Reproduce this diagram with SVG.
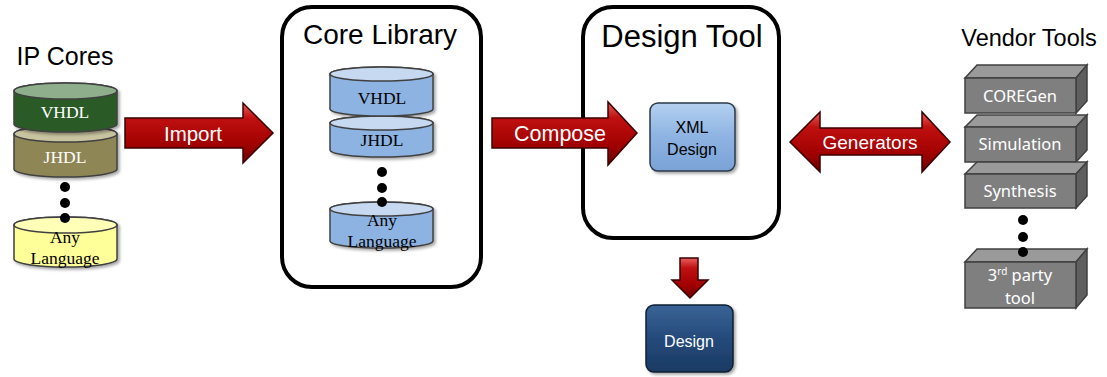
<svg xmlns="http://www.w3.org/2000/svg" width="1107" height="377" viewBox="0 0 1107 377">
<defs>
<linearGradient id="red" x1="0" y1="0" x2="0" y2="1">
<stop offset="0" stop-color="#e86060"/>
<stop offset="0.25" stop-color="#c01010"/>
<stop offset="0.7" stop-color="#a00000"/>
<stop offset="1" stop-color="#6a0000"/>
</linearGradient>
<linearGradient id="blueBox" x1="0" y1="0" x2="0" y2="1">
<stop offset="0" stop-color="#b4d0f0"/>
<stop offset="0.5" stop-color="#8db3e2"/>
<stop offset="1" stop-color="#7aa2d6"/>
</linearGradient>
<linearGradient id="navyBox" x1="0" y1="0" x2="0" y2="1">
<stop offset="0" stop-color="#3a6496"/>
<stop offset="0.5" stop-color="#244a7a"/>
<stop offset="1" stop-color="#1b3a63"/>
</linearGradient>
<filter id="sh" x="-10%" y="-10%" width="130%" height="130%">
<feDropShadow dx="2" dy="2" stdDeviation="1.5" flood-color="#000" flood-opacity="0.35"/>
</filter>
</defs>
<style>
.title{font-family:"Liberation Sans",Arial,sans-serif;fill:#000;text-anchor:middle}
.serif{font-family:"Liberation Serif","Times New Roman",serif;font-size:17.5px;text-anchor:middle}
.sans{font-family:"Liberation Sans",Arial,sans-serif;text-anchor:middle}
.cal{font-family:"Noto Sans","Open Sans",sans-serif;font-size:16.5px;fill:#fff;text-anchor:middle}
.frame{fill:#fff;stroke:#000;stroke-width:4}
.cylL{stroke:#404040;stroke-width:1.5}
.dot{fill:#000}
.arrow{fill:url(#red);stroke:#3a0000;stroke-width:1.5}
.alabel{font-family:"Liberation Sans",Arial,sans-serif;fill:#fff;text-anchor:middle}
.front{fill:#7f7f7f;stroke:#404040;stroke-width:1.5}
.topf{fill:#9a9a9a;stroke:#404040;stroke-width:1.5}
.side{fill:#5f5f5f;stroke:#404040;stroke-width:1.5}
</style>

<g id="ip-cores">
<text class="title" x="65" y="65" font-size="25">IP Cores</text>
<g id="ip-jhdl" filter="url(#sh)">
<path class="cylL" fill="#8f8656" d="M14,134 L14,169 A51.5,8 0 0 0 117,169 L117,134 A51.5,8 0 0 0 14,134 Z"/>
<ellipse class="cylL" cx="65.5" cy="134" rx="51.5" ry="8" fill="#c9c4a0"/>
</g>
<g id="ip-vhdl" filter="url(#sh)">
<path class="cylL" fill="#2c5a26" d="M14,91 L14,124 A51.5,8 0 0 0 117,124 L117,91 A51.5,8 0 0 0 14,91 Z"/>
<ellipse class="cylL" cx="65.5" cy="91" rx="51.5" ry="8" fill="#8eae8c"/>
</g>
<text class="serif" x="65" y="118" fill="#fff">VHDL</text>
<text class="serif" x="65" y="163" fill="#fff">JHDL</text>
<g id="ip-any" filter="url(#sh)">
<path class="cylL" fill="#ffff99" d="M14,225 L14,259 A51.5,8 0 0 0 117,259 L117,225 A51.5,8 0 0 0 14,225 Z"/>
<ellipse class="cylL" cx="65.5" cy="225" rx="51.5" ry="8" fill="#ffffb8"/>
</g>
<circle class="dot" cx="65" cy="187" r="5"/>
<circle class="dot" cx="65" cy="203" r="5"/>
<circle class="dot" cx="65" cy="218" r="5"/>
<text class="serif" x="65" y="243" fill="#000">Any</text>
<text class="serif" x="65" y="264" fill="#000">Language</text>
</g>

<g id="core-library">
<rect class="frame" x="282" y="7" width="199" height="280" rx="30"/>
<text class="title" x="380" y="44" font-size="28">Core Library</text>
<g filter="url(#sh)">
<path class="cylL" fill="#8db3e2" d="M330,123 L330,150 A51.5,7 0 0 0 433,150 L433,123 A51.5,7 0 0 0 330,123 Z"/>
<ellipse class="cylL" cx="381.5" cy="123" rx="51.5" ry="7" fill="#c6d9f1"/>
<path class="cylL" fill="#8db3e2" d="M330,74 L330,109 A51.5,7 0 0 0 433,109 L433,74 A51.5,7 0 0 0 330,74 Z"/>
<ellipse class="cylL" cx="381.5" cy="74" rx="51.5" ry="7" fill="#c6d9f1"/>
<path class="cylL" fill="#8db3e2" d="M330,209 L330,241 A51.5,7 0 0 0 433,241 L433,209 A51.5,7 0 0 0 330,209 Z"/>
<ellipse class="cylL" cx="381.5" cy="209" rx="51.5" ry="7" fill="#c6d9f1"/>
</g>
<text class="serif" x="382" y="104" fill="#000">VHDL</text>
<text class="serif" x="382" y="146" fill="#000">JHDL</text>
<circle class="dot" cx="382" cy="172" r="5"/>
<circle class="dot" cx="382" cy="188" r="5"/>
<circle class="dot" cx="382" cy="202" r="5"/>
<text class="serif" x="382" y="226" fill="#000">Any</text>
<text class="serif" x="382" y="247" fill="#000">Language</text>
</g>

<g id="design-tool">
<rect class="frame" x="583" y="7" width="196" height="231" rx="30"/>
<text class="title" x="682" y="47" font-size="31">Design Tool</text>
</g>

<g id="xml-design">
<rect x="650" y="103" width="85" height="68" rx="8" fill="url(#blueBox)" stroke="#2b3a4a" stroke-width="1.5" filter="url(#sh)"/>
<text class="sans" x="692" y="133" font-size="16" fill="#000">XML</text>
<text class="sans" x="692" y="155" font-size="16" fill="#000">Design</text>
</g>

<g id="design-out">
<rect x="646" y="305" width="87" height="67" rx="8" fill="url(#navyBox)" stroke="#0f1f33" stroke-width="1.5" filter="url(#sh)"/>
<text class="sans" x="689" y="347" font-size="16" fill="#fff">Design</text>
</g>

<g id="vendor-tools">
<text class="title" x="1029" y="46" font-size="23.5">Vendor Tools</text>
<g id="vt-coregen">
<polygon class="topf" points="965,78 977,65 1087,65 1076,78"/>
<polygon class="side" points="1076,78 1087,65 1087,101 1076,113"/>
<rect class="front" x="965" y="78" width="111" height="35"/>
<text class="cal" x="1020" y="102">COREGen</text>
</g>
<g id="vt-simulation">
<polygon class="topf" points="965,127 977,115 1087,115 1076,127"/>
<polygon class="side" points="1076,127 1087,115 1087,150 1076,162"/>
<rect class="front" x="965" y="127" width="111" height="35"/>
<text class="cal" x="1020" y="150">Simulation</text>
</g>
<g id="vt-synthesis">
<polygon class="topf" points="965,174 977,162 1087,162 1076,174"/>
<polygon class="side" points="1076,174 1087,162 1087,196 1076,208"/>
<rect class="front" x="965" y="174" width="111" height="34"/>
<text class="cal" x="1020" y="197">Synthesis</text>
</g>
<g id="vt-3rd">
<polygon class="topf" points="965,262 977,249 1087,249 1076,262"/>
<polygon class="side" points="1076,262 1087,249 1087,295 1076,308"/>
<rect class="front" x="965" y="262" width="111" height="46"/>
<text class="cal" x="1020" y="281" font-size="16">3<tspan font-size="10" dy="-6">rd</tspan><tspan dy="6"> party</tspan></text>
<text class="cal" x="1020" y="304" font-size="16">tool</text>
</g>
<circle class="dot" cx="1023" cy="220" r="5"/>
<circle class="dot" cx="1023" cy="237" r="5"/>
<circle class="dot" cx="1023" cy="252" r="5"/>
</g>

<g id="connectors">
<g id="import">
<polygon class="arrow" points="125,118 243,118 243,103 273,133 243,163 243,148 125,148"/>
<text class="alabel" x="193" y="141" font-size="20.5">Import</text>
</g>
<g id="compose">
<polygon class="arrow" points="492,118 608,118 608,102 637,133 608,165 608,148 492,148"/>
<text class="alabel" x="560" y="141" font-size="21.5">Compose</text>
</g>
<g id="generators">
<polygon class="arrow" points="790,142 820,112 820,128 922,128 922,112 950,142 922,172 922,155 820,155 820,172"/>
<text class="alabel" x="870" y="149" font-size="19">Generators</text>
</g>
<g id="to-design">
<polygon class="arrow" points="680,258 698,258 698,280 708,280 690,298 672,280 680,280"/>
</g>
</g>
</svg>
